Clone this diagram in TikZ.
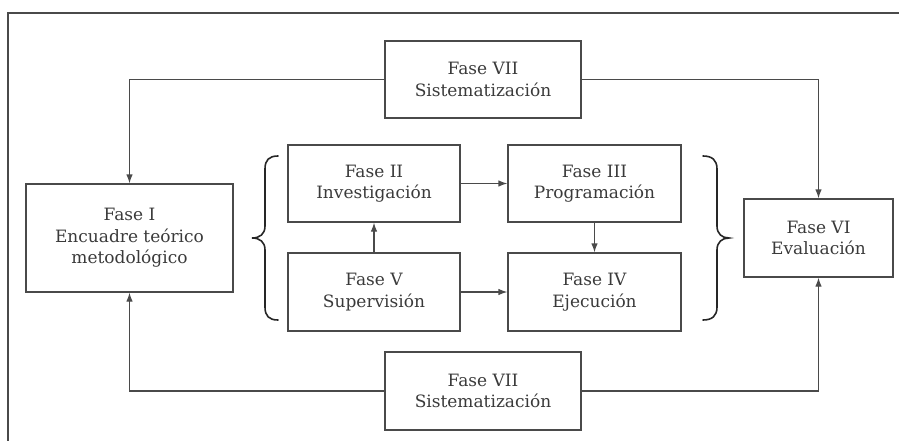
\documentclass[tikz,border=0pt]{standalone}
\usepackage{fontspec}
\setmainfont{DejaVu Serif}
\usetikzlibrary{arrows.meta}
\definecolor{linegray}{HTML}{4A4A4A}
\definecolor{textgray}{HTML}{3A3A3A}
\tikzset{
  phase/.style={draw=linegray, line width=1.2pt, align=center, inner sep=0pt,
    text=textgray, font=\fontsize{17}{21.5}\selectfont},
  link/.style={draw=linegray, line width=1.2pt, -{Latex[length=9pt,width=6.5pt]}},
  bracestroke/.style={draw=black!85, line width=1.6pt, line cap=round},
}
\begin{document}
\begin{tikzpicture}[x=1pt,y=-1pt]
\useasboundingbox (0,0) rectangle (899,441);
% outer frame: top and left rules only
\draw[linegray, line width=1.3pt] (899,13) -- (8,13) -- (8,441);

% outer phases
\node[phase, minimum width=196pt, minimum height=77pt] (top7) at (483,79.5) {Fase VII\\Sistematización};
\node[phase, minimum width=196pt, minimum height=78pt] (bot7) at (483,391) {Fase VII\\Sistematización};
\node[phase, minimum width=207pt, minimum height=108pt] (f1) at (129.5,238) {Fase I\\Encuadre teórico\\metodológico};
\node[phase, minimum width=149pt, minimum height=78pt] (f6) at (818.5,238) {Fase VI\\Evaluación};

% inner cycle
\node[phase, minimum width=172pt, minimum height=77pt] (f2) at (374,183.5) {Fase II\\Investigación};
\node[phase, minimum width=173pt, minimum height=77pt] (f3) at (594.5,183.5) {Fase III\\Programación};
\node[phase, minimum width=172pt, minimum height=78pt] (f5) at (374,292) {Fase V\\Supervisión};
\node[phase, minimum width=173pt, minimum height=78pt] (f4) at (594.5,292) {Fase IV\\Ejecución};

% connectors
\draw[link] (top7.west) -| (f1.north);
\draw[link] (top7.east) -| (f6.north);
\draw[link] (bot7.west) -| (f1.south);
\draw[link] (bot7.east) -| (f6.south);
\draw[link] (f2.east) -- (f3.west);
\draw[link] (f5.east) -- (f4.west);
\draw[link] (f5.north) -- (f2.south);
\draw[link] (f3.south) -- (f4.north);

% braces around the inner cycle
\draw[bracestroke] (278,156) .. controls (269,156) and (265,160) .. (265,169)
  -- (265,226) .. controls (265,234) and (260,238) .. (252,238)
  .. controls (260,238) and (265,242) .. (265,250)
  -- (265,307) .. controls (265,316) and (269,320) .. (278,320);
\draw[bracestroke] (703,156) .. controls (712,156) and (717,160) .. (717,169)
  -- (717,226) .. controls (717,234) and (722,238) .. (729,238)
  .. controls (722,238) and (717,242) .. (717,250)
  -- (717,307) .. controls (717,316) and (712,320) .. (703,320);
\end{tikzpicture}
\end{document}
